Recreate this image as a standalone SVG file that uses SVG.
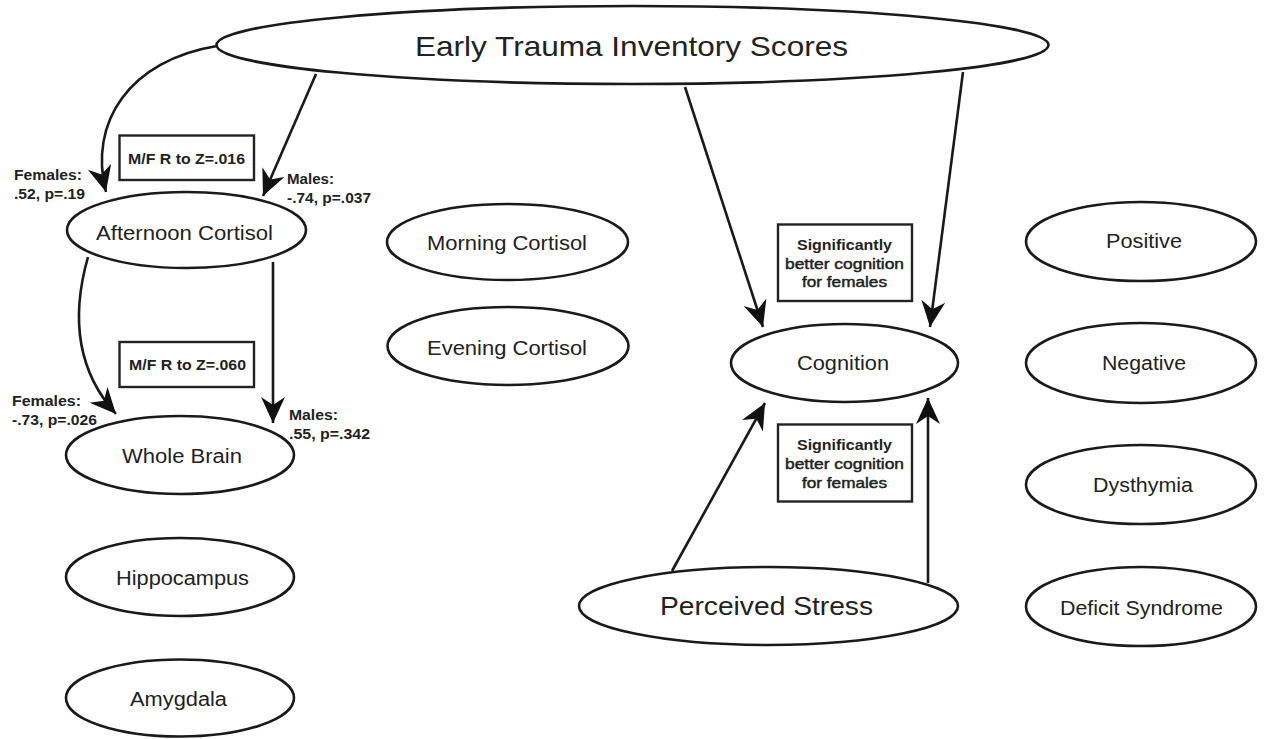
<svg xmlns="http://www.w3.org/2000/svg" width="1267" height="739" viewBox="0 0 1267 739">
<style>
.n{fill:#fff;stroke:#1a1a1a;stroke-width:2.6}
.t{font-family:"Liberation Sans",Arial,sans-serif;font-size:20px;fill:#222;text-anchor:middle}
.b{font-family:"Liberation Sans",Arial,sans-serif;font-size:14.5px;font-weight:bold;fill:#222}
.bx{fill:#fff;stroke:#222;stroke-width:2.4}
.c{fill:none;stroke:#1a1a1a;stroke-width:2.6;marker-end:url(#ah)}
.m{text-anchor:middle}
.r{font-weight:normal;stroke:#222;stroke-width:0.45}
</style>
<defs>
<marker id="ah" markerUnits="userSpaceOnUse" viewBox="-28 -14 30 28" markerWidth="30" markerHeight="28" refX="0" refY="0" orient="auto">
<path d="M0,0 L-26,-12 L-18,0 L-26,12 Z" fill="#111"/>
</marker>
</defs>
<rect width="1267" height="739" fill="#fff"/>

<g id="connectors">
<path class="c" d="M217,46 C130,60 88,122 106,192"/>
<path class="c" d="M316,74 L263,196"/>
<path class="c" d="M685,87 L763,327"/>
<path class="c" d="M963,72 L930,327"/>
<path class="c" d="M88,257 C70,320 78,372 116,414"/>
<path class="c" d="M273,262 L273,423"/>
<path class="c" d="M672,571 L765,403"/>
<path class="c" d="M928,583 L928,398"/>
</g>

<g id="node-eti">
<ellipse class="n" cx="632.5" cy="45" rx="416" ry="39"/>
<text class="t" x="631.5" y="56" style="font-size:28px" textLength="433" lengthAdjust="spacingAndGlyphs">Early Trauma Inventory Scores</text>
</g>
<g id="node-afternoon">
<ellipse class="n" cx="186.5" cy="230" rx="119.5" ry="38"/>
<text class="t" x="184.5" y="240" textLength="177" lengthAdjust="spacingAndGlyphs">Afternoon Cortisol</text>
</g>
<g id="node-wholebrain">
<ellipse class="n" cx="180" cy="455" rx="114" ry="39"/>
<text class="t" x="182" y="463" textLength="120" lengthAdjust="spacingAndGlyphs">Whole Brain</text>
</g>
<g id="node-hippocampus">
<ellipse class="n" cx="180" cy="577" rx="114" ry="39"/>
<text class="t" x="182.5" y="585" textLength="133" lengthAdjust="spacingAndGlyphs">Hippocampus</text>
</g>
<g id="node-amygdala">
<ellipse class="n" cx="180" cy="698" rx="114" ry="38.5"/>
<text class="t" x="178.5" y="706" textLength="97" lengthAdjust="spacingAndGlyphs">Amygdala</text>
</g>
<g id="node-morning">
<ellipse class="n" cx="507.5" cy="242" rx="120.5" ry="38"/>
<text class="t" x="507" y="250" textLength="160" lengthAdjust="spacingAndGlyphs">Morning Cortisol</text>
</g>
<g id="node-evening">
<ellipse class="n" cx="508" cy="346" rx="120.5" ry="39"/>
<text class="t" x="507" y="355" textLength="160" lengthAdjust="spacingAndGlyphs">Evening Cortisol</text>
</g>
<g id="node-cognition">
<ellipse class="n" cx="844.5" cy="363" rx="113.5" ry="39"/>
<text class="t" x="843" y="370" textLength="92" lengthAdjust="spacingAndGlyphs">Cognition</text>
</g>
<g id="node-stress">
<ellipse class="n" cx="768.5" cy="606" rx="189.5" ry="39"/>
<text class="t" x="766.5" y="615" style="font-size:26px" textLength="213" lengthAdjust="spacingAndGlyphs">Perceived Stress</text>
</g>
<g id="node-positive">
<ellipse class="n" cx="1141" cy="241.5" rx="115" ry="39.5"/>
<text class="t" x="1144" y="248" textLength="76" lengthAdjust="spacingAndGlyphs">Positive</text>
</g>
<g id="node-negative">
<ellipse class="n" cx="1141" cy="363" rx="115" ry="40"/>
<text class="t" x="1144" y="370" textLength="84" lengthAdjust="spacingAndGlyphs">Negative</text>
</g>
<g id="node-dysthymia">
<ellipse class="n" cx="1141" cy="484.5" rx="115" ry="39.5"/>
<text class="t" x="1143" y="492" textLength="100" lengthAdjust="spacingAndGlyphs">Dysthymia</text>
</g>
<g id="node-deficit">
<ellipse class="n" cx="1141" cy="606.5" rx="115" ry="39.5"/>
<text class="t" x="1141.5" y="615" textLength="163" lengthAdjust="spacingAndGlyphs">Deficit Syndrome</text>
</g>

<g id="label-box-1">
<rect class="bx" x="119.5" y="135.5" width="134.5" height="44.5"/>
<text class="b" x="128" y="164" textLength="117" lengthAdjust="spacingAndGlyphs">M/F R to Z=.016</text>
</g>
<g id="label-box-2">
<rect class="bx" x="119.5" y="342" width="134.5" height="45"/>
<text class="b" x="129" y="370" textLength="117" lengthAdjust="spacingAndGlyphs">M/F R to Z=.060</text>
</g>
<g id="label-box-3">
<rect class="bx" x="778" y="224.5" width="134" height="76.5"/>
<text class="b m" x="844.5" y="250" textLength="95" lengthAdjust="spacingAndGlyphs">Significantly</text>
<text class="b m r" x="844.5" y="268.5" textLength="119" lengthAdjust="spacingAndGlyphs">better cognition</text>
<text class="b m r" x="844.5" y="287" textLength="85" lengthAdjust="spacingAndGlyphs">for females</text>
</g>
<g id="label-box-4">
<rect class="bx" x="778" y="424.5" width="134" height="77"/>
<text class="b m" x="844.5" y="450" textLength="95" lengthAdjust="spacingAndGlyphs">Significantly</text>
<text class="b m r" x="844.5" y="469" textLength="119" lengthAdjust="spacingAndGlyphs">better cognition</text>
<text class="b m r" x="844.5" y="487.5" textLength="85" lengthAdjust="spacingAndGlyphs">for females</text>
</g>

<g id="edge-labels">
<text class="b" x="14" y="180" textLength="68" lengthAdjust="spacingAndGlyphs">Females:</text>
<text class="b" x="14" y="199" textLength="71" lengthAdjust="spacingAndGlyphs">.52, p=.19</text>
<text class="b" x="287" y="184" textLength="47" lengthAdjust="spacingAndGlyphs">Males:</text>
<text class="b" x="287" y="203" textLength="84" lengthAdjust="spacingAndGlyphs">-.74, p=.037</text>
<text class="b" x="12" y="406" textLength="69" lengthAdjust="spacingAndGlyphs">Females:</text>
<text class="b" x="12" y="424.5" textLength="85" lengthAdjust="spacingAndGlyphs">-.73, p=.026</text>
<text class="b" x="289" y="420" textLength="49" lengthAdjust="spacingAndGlyphs">Males:</text>
<text class="b" x="289" y="439" textLength="81" lengthAdjust="spacingAndGlyphs">.55, p=.342</text>
</g>
</svg>
